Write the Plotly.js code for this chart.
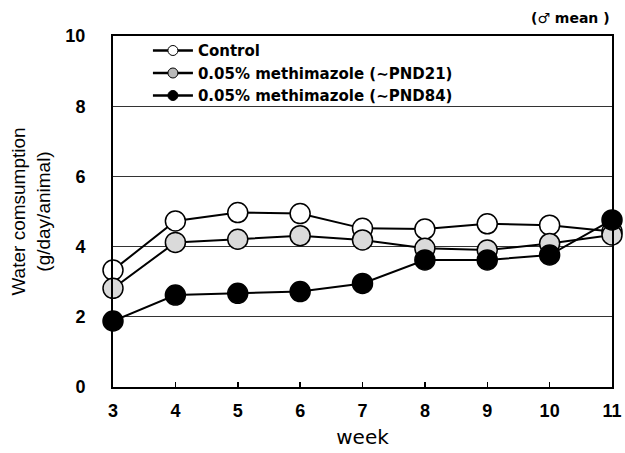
<!DOCTYPE html>
<html>
<head>
<meta charset="utf-8">
<script src="https://cdn.plot.ly/plotly-3.0.1.min.js"></script>
<style>
  html, body { margin: 0; padding: 0; background: #fff; }
  #chart { width: 625px; height: 453px; }
</style>
</head>
<body>
<div id="chart"></div>
<script>
// Mean water consumption of males (g/day/animal) by week of age
const weeks = [3, 4, 5, 6, 7, 8, 9, 10, 11];
const seriesNames = [
  'Control',
  '0.05% methimazole (\u223CPND21)',
  '0.05% methimazole (\u223CPND84)'
];
const control  = [3.33, 4.73, 4.97, 4.94, 4.52, 4.50, 4.65, 4.61, 4.43];
const mmiPND21 = [2.81, 4.12, 4.21, 4.31, 4.19, 3.95, 3.90, 4.09, 4.33];
const mmiPND84 = [1.88, 2.62, 2.67, 2.72, 2.95, 3.62, 3.62, 3.76, 4.76];
const yTicks = [0, 2, 4, 6, 8, 10];

const fills = ['#ffffff', '#dadada', '#000000'];
const keyFills = ['#ffffff', '#b8b8b8', '#000000'];
const values = [control, mmiPND21, mmiPND84];

// Plotted series (large markers)
const traces = values.map((ys, i) => ({
  type: 'scatter',
  mode: 'lines+markers',
  name: seriesNames[i],
  showlegend: false,
  x: weeks,
  y: ys,
  cliponaxis: false,
  line: { color: '#000', width: 2 },
  marker: { size: 20, color: fills[i], line: { color: '#000', width: 1.5 } }
}));

// Key entries with small symbols
const keys = values.map((ys, i) => ({
  type: 'scatter',
  mode: 'lines+markers',
  name: seriesNames[i],
  x: [null],
  y: [null],
  line: { color: '#000', width: 2.5 },
  marker: { size: 10, color: keyFills[i], line: { color: '#000', width: 1 } }
}));

const tickFont = { family: 'Liberation Sans Narrow, Liberation Sans, Arial, sans-serif', size: 18, weight: 'bold', color: '#000' };

const layout = {
  width: 625,
  height: 453,
  margin: { l: 113, r: 13, t: 36, b: 66 },
  paper_bgcolor: '#fff',
  plot_bgcolor: '#fff',
  showlegend: true,
  legend: {
    x: 0.07, y: 1.005, xanchor: 'left', yanchor: 'top',
    bgcolor: 'rgba(0,0,0,0)',
    itemwidth: 40,
    font: { family: 'DejaVu Sans, sans-serif', size: 15, weight: 'bold', color: '#000' }
  },
  xaxis: {
    range: [3, 11],
    tickvals: weeks,
    ticks: 'inside', ticklen: 5, tickwidth: 1.5, tickcolor: '#000',
    showgrid: false, zeroline: false,
    showline: true, linecolor: '#000', linewidth: 2, mirror: true,
    tickfont: tickFont,
    ticklabelstandoff: 6,
    title: { text: 'week', font: { family: 'DejaVu Sans, sans-serif', size: 20, color: '#000' }, standoff: 10 }
  },
  yaxis: {
    range: [0, 10],
    tickvals: yTicks,
    ticks: '',
    showgrid: true, gridcolor: '#333', gridwidth: 1,
    zeroline: false,
    showline: true, linecolor: '#000', linewidth: 2, mirror: true,
    tickfont: tickFont,
    ticklabelstandoff: 22,
    title: {
      text: 'Water comsumption<br>(g/day/animal)',
      font: { family: 'Liberation Sans, Arial, sans-serif', size: 19, color: '#000' },
      standoff: 10
    }
  },
  annotations: [{
    xref: 'paper', yref: 'paper', x: 1, y: 1.05, xanchor: 'right', yanchor: 'middle',
    text: '(\u2642 mean )', showarrow: false,
    font: { family: 'DejaVu Sans, sans-serif', size: 14, weight: 'bold', color: '#000' }
  }]
};

Plotly.newPlot('chart', traces.concat(keys), layout, { staticPlot: true, displayModeBar: false });
</script>
</body>
</html>
